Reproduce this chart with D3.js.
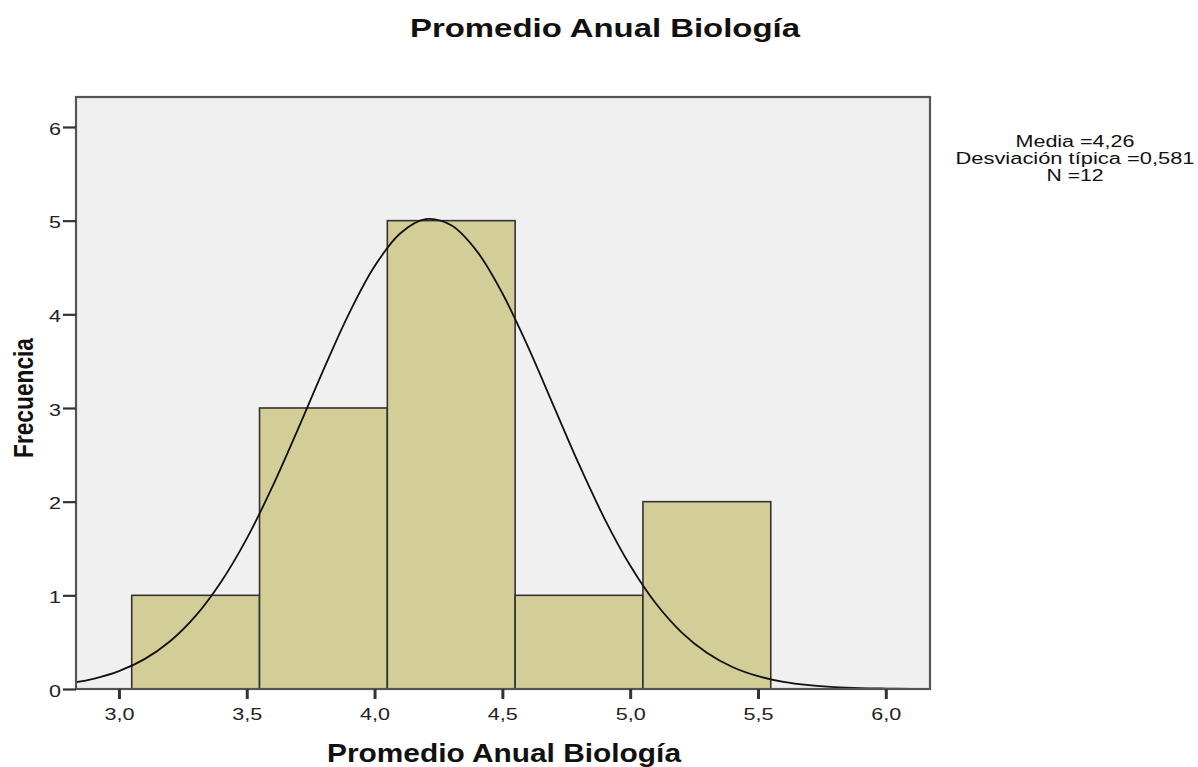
<!DOCTYPE html>
<html><head><meta charset="utf-8">
<script src="https://cdn.jsdelivr.net/npm/d3@7"></script>
<style>body{margin:0;background:#fff}</style>
</head><body>
<svg id="c" width="1198" height="767"></svg>
<script>
// Histogram bins (edges) and frequencies
const binStart = [3.05, 3.55, 4.05, 4.55, 5.05];
const binEnd   = [3.55, 4.05, 4.55, 5.05, 5.55];
const counts   = [1, 3, 5, 1, 2];
// Normal curve
const curveX = [2.83,2.9,3.0,3.1,3.2,3.3,3.4,3.5,3.6,3.7,3.8,3.9,4.0,4.1,4.2,4.3,4.4,4.5,4.6,4.7,4.8,4.9,5.0,5.1,5.2,5.3,5.4,5.5,5.6,5.7,5.8,5.9,6.0,6.1,6.17];
const curveY = [0.072,0.109,0.191,0.319,0.510,0.781,1.146,1.606,2.157,2.771,3.407,4.008,4.513,4.863,5.016,4.950,4.675,4.225,3.655,3.026,2.397,1.817,1.318,0.915,0.608,0.387,0.235,0.137,0.076,0.041,0.021,0.010,0.005,0.002,0.001];
const xTicks = [3.0,3.5,4.0,4.5,5.0,5.5,6.0];
const yTicks = [0,1,2,3,4,5,6];
const statsLines = ["Media =4,26","Desviación típica =0,581","N =12"];
const titleText = "Promedio Anual Biología";
const xLabel = "Promedio Anual Biología";
const yLabel = "Frecuencia";

const FONT = "Liberation Sans, Arial, sans-serif";
const svg = d3.select("#c");
const L = 76, R = 930, T = 97, B = 689;
const x = d3.scaleLinear().domain([2.832, 6.173]).range([L, R]);
const y = d3.scaleLinear().domain([0, 6.32]).range([B, T]);

svg.append("rect").attr("x", L).attr("y", T).attr("width", R-L).attr("height", B-T)
  .attr("fill", "#f0f0f0");

svg.selectAll("rect.bar").data(counts).enter().append("rect").attr("class","bar")
  .attr("x", (d,i)=>x(binStart[i])).attr("width",(d,i)=>x(binEnd[i])-x(binStart[i]))
  .attr("y", d=>y(d)).attr("height", d=>y(0)-y(d))
  .attr("fill", "#d3ce97").attr("stroke", "#333").attr("stroke-width", 1.6);

const line = d3.line().x((d,i)=>x(curveX[i])).y(d=>y(d)).curve(d3.curveCatmullRom);
svg.append("path").attr("d", line(curveY)).attr("fill","none").attr("stroke","#111").attr("stroke-width",1.8);

svg.append("rect").attr("x", L).attr("y", T).attr("width", R-L).attr("height", B-T)
  .attr("fill", "none").attr("stroke", "#555").attr("stroke-width", 2.2);

const fmtX = d=>d3.format(".1f")(d).replace(".",",");
const xAxis = svg.append("g").attr("transform",`translate(0,${B})`)
  .call(d3.axisBottom(x).tickValues(xTicks).tickSize(10).tickPadding(8).tickSizeOuter(0).tickFormat(fmtX));
const yAxis = svg.append("g").attr("transform",`translate(${L},0)`)
  .call(d3.axisLeft(y).tickValues(yTicks).tickSize(13).tickPadding(2).tickSizeOuter(0).tickFormat(d3.format("d")));
[xAxis,yAxis].forEach(a=>{
  a.select(".domain").remove();
  a.selectAll(".tick line").attr("stroke","#333");
  a.selectAll("text").attr("font-family",FONT).attr("font-size",17).attr("fill","#222")
    .attr("lengthAdjust","spacingAndGlyphs");
});
xAxis.selectAll(".tick line").attr("stroke-width",3);
yAxis.selectAll(".tick line").attr("stroke-width",2.2);
xAxis.selectAll("text").attr("textLength",30).attr("dy","0.75em");
yAxis.selectAll("text").attr("textLength",12).attr("dy","0.42em");

svg.append("text").attr("x",605).attr("y",37).attr("text-anchor","middle")
  .attr("font-family",FONT).attr("font-weight","bold").attr("font-size",26).attr("fill","#111")
  .attr("textLength",390).attr("lengthAdjust","spacingAndGlyphs").text(titleText);
svg.append("text").attr("x",504).attr("y",762).attr("text-anchor","middle")
  .attr("font-family",FONT).attr("font-weight","bold").attr("font-size",26).attr("fill","#111")
  .attr("textLength",354).attr("lengthAdjust","spacingAndGlyphs").text(xLabel);
svg.append("text").attr("transform","translate(33,398) rotate(-90)").attr("text-anchor","middle")
  .attr("font-family",FONT).attr("font-weight","bold").attr("font-size",27).attr("fill","#111")
  .attr("textLength",120).attr("lengthAdjust","spacingAndGlyphs").text(yLabel);

const statLen = [119, 239, 57];
svg.append("g").selectAll("text").data(statsLines).enter().append("text")
  .attr("x",1075).attr("y",(d,i)=>147+i*17).attr("text-anchor","middle")
  .attr("font-family",FONT).attr("font-size",16).attr("fill","#111")
  .attr("textLength",(d,i)=>statLen[i]).attr("lengthAdjust","spacingAndGlyphs").text(d=>d);
</script>
</body></html>
